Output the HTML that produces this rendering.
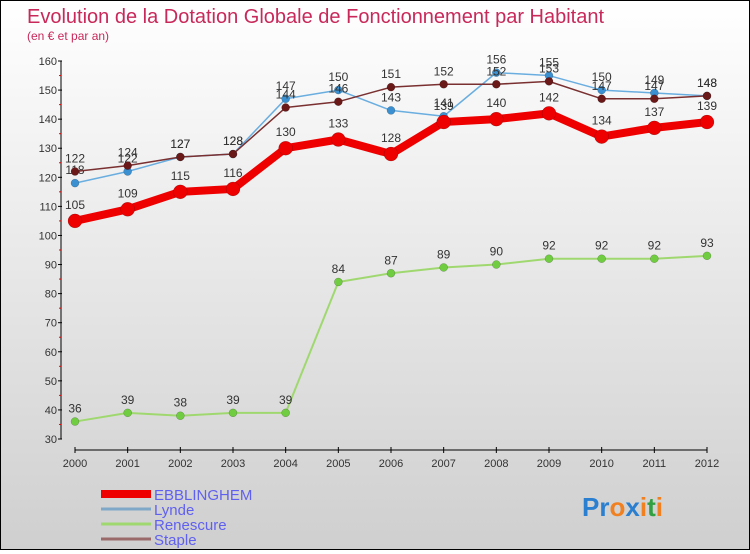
<!DOCTYPE html>
<html><head><meta charset="utf-8"><style>
html,body{margin:0;padding:0}
body{width:750px;height:550px;overflow:hidden;font-family:"Liberation Sans",sans-serif}
#wrap{position:relative;width:748px;height:548px;border:1px solid #000;background:linear-gradient(#ffffff,#cfcfcf)}
</style></head><body>
<div id="wrap">
<svg id="chart" width="748" height="548" xmlns="http://www.w3.org/2000/svg">
<text x="26" y="22" font-size="20" fill="#c8285a" font-family="Liberation Sans">Evolution de la Dotation Globale de Fonctionnement par Habitant</text>
<text x="26" y="39" font-size="12" fill="#c8285a">(en € et par an)</text>
<g id="axes"></g><g id="series"></g><g id="legend"></g>
<text x="581" y="515" font-size="26" font-weight="bold"><tspan fill="#2a7fd0">Pr</tspan><tspan fill="#f08020">o</tspan><tspan fill="#2a7fd0">x</tspan><tspan fill="#f08020">i</tspan><tspan fill="#30a040">t</tspan><tspan fill="#f08020">i</tspan></text>
</svg>
</div>
<script>
const years=[2000,2001,2002,2003,2004,2005,2006,2007,2008,2009,2010,2011,2012];
const yTicks=[30,40,50,60,70,80,90,100,110,120,130,140,150,160];
const ebb=[105,109,115,116,130,133,128,139,140,142,134,137,139];
const lynde=[118,122,127,128,147,150,143,141,156,155,150,149,148];
const renescure=[36,39,38,39,39,84,87,89,90,92,92,92,93];
const staple=[122,124,127,128,144,146,151,152,152,153,147,147,148];
const seriesNames=["EBBLINGHEM","Lynde","Renescure","Staple"];
const NS="http://www.w3.org/2000/svg";
const X0=74,X1=706,Y0=438,Y1=60,VMIN=30,VMAX=160;
function xs(i){return X0+(X1-X0)*i/(years.length-1);}
function ys(v){return Y0-(v-VMIN)/(VMAX-VMIN)*(Y0-Y1);}
function mk(tag,attrs,parent){const e=document.createElementNS(NS,tag);for(const k in attrs)e.setAttribute(k,attrs[k]);parent.appendChild(e);return e;}
const axes=document.getElementById('axes');
let a=mk('line',{x1:60,y1:ys(VMAX),x2:60,y2:Y0,stroke:'#000','stroke-width':1},axes);


a=mk('line',{x1:X0,y1:449,x2:X1,y2:449,stroke:'#000','stroke-width':1},axes);


yTicks.forEach((t,i)=>{
  mk('line',{x1:57,y1:ys(t),x2:61,y2:ys(t),stroke:'#000'},axes);
  if(i<yTicks.length-1)mk('line',{x1:58,y1:ys(t+5),x2:60,y2:ys(t+5),stroke:'#e00'},axes);
  const tx=mk('text',{x:56,y:ys(t)+4,'font-size':11,fill:'#333','text-anchor':'end'},axes);
  tx.textContent=t;
  
  
});
years.forEach((y,i)=>{
  mk('line',{x1:xs(i),y1:446,x2:xs(i),y2:452,stroke:'#000'},axes);
  const tx=mk('text',{x:xs(i),y:466,'font-size':11,fill:'#333','text-anchor':'middle'},axes);
  tx.textContent=y;
  
  
});
const sg=document.getElementById('series');
function drawSeries(vals,color,lw,r,dotColor,name,fs){
  const g=mk('g',{},sg);
  
  
  const p=mk('polyline',{points:vals.map((v,i)=>xs(i)+','+ys(v)).join(' '),fill:'none',stroke:color,'stroke-width':lw,'stroke-linejoin':'round'},g);
  
  
  vals.forEach((v,i)=>{
    const c=mk('circle',{cx:xs(i),cy:ys(v),r:r,fill:dotColor,stroke:'rgba(0,0,0,0.3)','stroke-width':0.5},g);
    
    
    const t=mk('text',{x:xs(i),y:ys(v)-(r+5),'font-size':fs,fill:'#333','text-anchor':'middle'},g);
    t.textContent=v;
    
    
  });
}
drawSeries(renescure,'#a0d870',2,4,'#70cc40','renescure',12);
drawSeries(lynde,'#6aaee0',1.5,4,'#3a90d0','lynde',12);
drawSeries(staple,'#7a3030',1.5,4,'#6a1818','staple',12);
drawSeries(ebb,'#ee0000',8,7,'#ee0000','ebblinghem',12);
const lg=document.getElementById('legend');
const lc=['#ee0000','#7fa8c8','#a0d870','#9a6a6a'],lw=[8,3,3,3];
seriesNames.forEach((n,i)=>{
  const y=493+i*15;
  const l=mk('line',{x1:100,y1:y,x2:150,y2:y,stroke:lc[i],'stroke-width':lw[i]},lg);
  
  
  const t=mk('text',{x:153,y:y+6,'font-size':15,fill:'#6060f0'},lg);
  t.textContent=n;
  
  
});
</script>
</body></html>
